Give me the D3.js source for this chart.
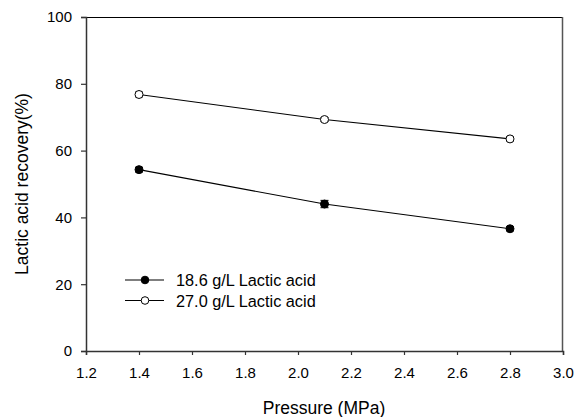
<!DOCTYPE html>
<html>
<head>
<meta charset="utf-8">
<script src="https://cdn.jsdelivr.net/npm/d3@7"></script>
<style>
  html, body { margin: 0; padding: 0; background: #fff; }
  svg { display: block; font-family: "Liberation Sans", Arial, sans-serif; }
</style>
</head>
<body>
<svg id="chart" width="575" height="417"></svg>
<script>
// Pressure levels (MPa)
const pressure = [1.4, 2.1, 2.8];
// Lactic acid recovery (%) for each feed concentration
const recoveryLow = [54.3, 44.0, 36.6];   // 18.6 g/L
const recoveryHigh = [76.8, 69.3, 63.5];  // 27.0 g/L
// Standard deviations
const errLow = [0.7, 1.1, 0.6];
const errHigh = [0.7, 0.6, 0.6];
const seriesNames = ["18.6 g/L Lactic acid", "27.0 g/L Lactic acid"];
const xTicks = [1.2, 1.4, 1.6, 1.8, 2.0, 2.2, 2.4, 2.6, 2.8, 3.0];
const yTicks = [0, 20, 40, 60, 80, 100];

const svg = d3.select("#chart");
const plotL = 86, plotR = 563, plotT = 17, plotB = 351;

const x = d3.scaleLinear().domain([1.2, 3.0]).range([plotL, plotR]);
const y = d3.scaleLinear().domain([0, 100]).range([plotB, plotT]);

// Frame
svg.append("line").attr("x1", plotL).attr("x2", plotR).attr("y1", plotT + 0.5).attr("y2", plotT + 0.5)
  .attr("stroke", "#000").attr("stroke-width", 1);
svg.append("line").attr("x1", plotR - 0.5).attr("x2", plotR - 0.5).attr("y1", plotT).attr("y2", plotB)
  .attr("stroke", "#555").attr("stroke-width", 1.5);

// Axes
const xAxis = svg.append("g").attr("transform", `translate(0,${plotB})`)
  .call(d3.axisBottom(x).tickValues(xTicks).tickFormat(d3.format(".1f")).tickSize(4).tickPadding(12));
const yAxis = svg.append("g").attr("transform", `translate(${plotL},0)`)
  .call(d3.axisLeft(y).tickValues(yTicks).tickFormat(d3.format("d")).tickSize(5).tickPadding(9));

[xAxis, yAxis].forEach(g => {
  g.select(".domain").attr("stroke", "#333").attr("stroke-width", 1.5);
  g.selectAll(".tick line").attr("stroke", "#333").attr("stroke-width", 1.2);
  g.selectAll(".tick text").attr("fill", "#000").style("font-size", "15px")
    .style("font-family", "'Liberation Sans', Arial, sans-serif");
});

// Axis titles
svg.append("text").attr("x", 324).attr("y", 414)
  .attr("text-anchor", "middle").style("font-size", "17.5px").text("Pressure (MPa)");
svg.append("text").attr("transform", `translate(28,184) rotate(-90)`)
  .attr("text-anchor", "middle").style("font-size", "17.5px").text("Lactic acid recovery(%)");

const series = [
  { vals: recoveryLow, errs: errLow, fill: "#000" },
  { vals: recoveryHigh, errs: errHigh, fill: "#fff" }
];

const line = d3.line().x((d, i) => x(pressure[i])).y(d => y(d));

series.forEach(s => {
  svg.append("path").datum(s.vals).attr("d", line)
    .attr("fill", "none").attr("stroke", "#000").attr("stroke-width", 1.1);
  const g = svg.append("g");
  s.vals.forEach((v, i) => {
    const cx = x(pressure[i]);
    const y1 = y(v + s.errs[i]), y2 = y(v - s.errs[i]);
    g.append("line").attr("x1", cx).attr("x2", cx).attr("y1", y1).attr("y2", y2)
      .attr("stroke", "#000").attr("stroke-width", 1);
    [y1, y2].forEach(yy => g.append("line").attr("x1", cx - 4).attr("x2", cx + 4)
      .attr("y1", yy).attr("y2", yy).attr("stroke", "#000").attr("stroke-width", 1));
    g.append("circle").attr("cx", cx).attr("cy", y(v)).attr("r", 4)
      .attr("fill", s.fill).attr("stroke", "#000").attr("stroke-width", 1);
  });
});

// Legend
const legendY = [280, 300.5];
series.forEach((s, i) => {
  const ly = legendY[i];
  svg.append("line").attr("x1", 125).attr("x2", 164).attr("y1", ly).attr("y2", ly)
    .attr("stroke", "#000").attr("stroke-width", 1.1);
  svg.append("circle").attr("cx", 145).attr("cy", ly).attr("r", 3.8)
    .attr("fill", s.fill).attr("stroke", "#000").attr("stroke-width", 1);
  svg.append("text").attr("x", 176).attr("y", ly + 6).style("font-size", "16.3px")
    .text(seriesNames[i]);
});
</script>
</body>
</html>
